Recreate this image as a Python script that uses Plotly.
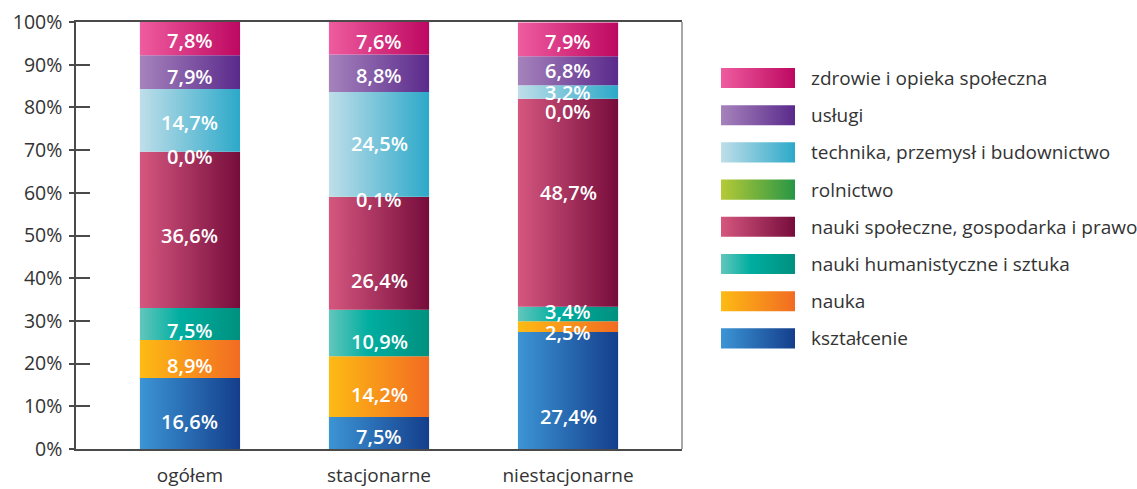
import plotly.graph_objects as go

# ---------------- data ----------------
categories = ["ogółem", "stacjonarne", "niestacjonarne"]
series_names = [
    "kształcenie",
    "nauka",
    "nauki humanistyczne i sztuka",
    "nauki społeczne, gospodarka i prawo",
    "rolnictwo",
    "technika, przemysł i budownictwo",
    "usługi",
    "zdrowie i opieka społeczna",
]
ksztalcenie = [16.6, 7.5, 27.4]
nauka = [8.9, 14.2, 2.5]
humanistyczne = [7.5, 10.9, 3.4]
spoleczne = [36.6, 26.4, 48.7]
rolnictwo = [0.0, 0.1, 0.0]
technika = [14.7, 24.5, 3.2]
uslugi = [7.9, 8.8, 6.8]
zdrowie = [7.8, 7.6, 7.9]
series_values = [ksztalcenie, nauka, humanistyczne, spoleczne, rolnictwo, technika, uslugi, zdrowie]
y_ticks = [0, 10, 20, 30, 40, 50, 60, 70, 80, 90, 100]
y_tick_labels = [f"{t}%" for t in y_ticks]

# ---------------- style ----------------
gradients = [
    [[0, "#3C95D5"], [1, "#143E8C"]],                       # kształcenie
    [[0, "#FDBB14"], [1, "#F26B22"]],                       # nauka
    [[0, "#62C6BC"], [0.4, "#00AEA0"], [1, "#00907F"]],     # humanistyczne
    [[0, "#D5577F"], [1, "#760C3B"]],                       # społeczne
    [[0, "#B6CA36"], [1, "#289645"]],                       # rolnictwo
    [[0, "#BFDEE9"], [1, "#2CA9C9"]],                       # technika
    [[0, "#A683BC"], [1, "#5A2A8C"]],                       # usługi
    [[0, "#EF5C9F"], [1, "#BD0861"]],                       # zdrowie
]
# vertical pixel shift of the value labels (positive = down), per category
label_shift = [
    [8, 6, 6, 6, 5, 2, 4, 2],
    [4, 8, 8, 27, 3, -1, 2, 3],
    [26, 6, -3, -10, 13, 0, 0, 2],
]
W, H = 1137, 489
PL, PR, PT, PB = 76, 682, 22, 449      # plot area in px
bar_w = 0.53
FONT = "Open Sans"
TXT = "#333333"
AX = "#4a4a4a"

fig = go.Figure()

# ---------------- bars (gradient-filled polygons) ----------------
annotations = []
for j, cat in enumerate(categories):
    base = 0.0
    for i, vals in enumerate(series_values):
        v = vals[j]
        top = base + v
        if v > 0:
            x0, x1 = j - bar_w / 2, j + bar_w / 2
            fig.add_trace(go.Scatter(
                x=[x0, x1, x1, x0, x0], y=[base, base, top, top, base],
                mode="none", fill="toself",
                fillgradient=dict(type="horizontal", colorscale=gradients[i]),
                showlegend=False, hoverinfo="skip", xaxis="x", yaxis="y",
            ))
        annotations.append(dict(
            x=j, y=base + v / 2, xref="x", yref="y",
            text=f"{v:.1f}".replace(".", ",") + "%",
            showarrow=False, yshift=-label_shift[j][i],
            font=dict(family=FONT, size=20, color="white", weight=600),
        ))
        base = top

# invisible trace for overlay axis with inner ticks
fig.add_trace(go.Scatter(x=[0], y=[0], mode="none", showlegend=False,
                         hoverinfo="skip", xaxis="x", yaxis="y2"))

# ---------------- custom legend ----------------
n = len(series_names)
row_sp = 37.2
row0 = 78.0
for k in range(n):
    i = n - 1 - k
    fig.add_trace(go.Scatter(
        x=[0, 1, 1, 0, 0], y=[k - 0.27, k - 0.27, k + 0.27, k + 0.27, k - 0.27],
        mode="none", fill="toself",
        fillgradient=dict(type="horizontal", colorscale=gradients[i]),
        showlegend=False, hoverinfo="skip", xaxis="x3", yaxis="y3",
    ))
    annotations.append(dict(
        x=809 / W, y=k, xref="paper", yref="y3", xanchor="left",
        text=series_names[i], showarrow=False,
        font=dict(family=FONT, size=19, color=TXT),
    ))

leg_top = row0 - row_sp / 2
leg_bot = row0 + row_sp * (n - 1) + row_sp / 2

fig.update_layout(
    width=W, height=H,
    margin=dict(l=0, r=0, t=0, b=0),
    paper_bgcolor="white", plot_bgcolor="white",
    showlegend=False,
    font=dict(family=FONT, color=TXT),
    xaxis=dict(
        domain=[PL / W, PR / W], range=[-0.603, 2.603],
        tickmode="array", tickvals=list(range(len(categories))), ticktext=categories,
        ticks="", showgrid=False, zeroline=False,
        showline=True, linecolor=AX, linewidth=1.5, mirror=True,
        tickfont=dict(family=FONT, size=19, color=TXT),
        ticklabelstandoff=8, automargin=False,
    ),
    yaxis=dict(
        domain=[(H - PB) / H, (H - PT) / H], range=[0, 100],
        tickmode="array", tickvals=y_ticks, ticktext=y_tick_labels,
        ticks="outside", ticklen=5, tickwidth=1.5, tickcolor=AX,
        showgrid=False, zeroline=False,
        showline=True, linecolor=AX, linewidth=1.5,
        tickfont=dict(family=FONT, size=19.5, color=TXT),
        ticklabelstandoff=3, automargin=False,
    ),
    yaxis2=dict(
        overlaying="y", anchor="x", side="left", range=[0, 100],
        tickmode="array", tickvals=y_ticks,
        ticks="inside", ticklen=14, tickwidth=1.5, tickcolor=AX,
        showticklabels=False, showgrid=False, zeroline=False, showline=False,
    ),
    xaxis3=dict(
        domain=[721 / W, 795 / W], range=[0, 1], anchor="y3",
        visible=False, fixedrange=True,
    ),
    yaxis3=dict(
        domain=[(H - leg_bot) / H, (H - leg_top) / H], range=[n - 0.5, -0.5],
        anchor="x3", visible=False, fixedrange=True,
    ),
    shapes=[dict(type="line", xref="x domain", yref="y domain",
                 x0=1, x1=1, y0=0, y1=1, line=dict(color="#8a8a8a", width=1.5))],
    annotations=annotations,
)

fig.write_html("out.html", config={"displayModeBar": False},
               post_script="document.body.style.margin='0';")
